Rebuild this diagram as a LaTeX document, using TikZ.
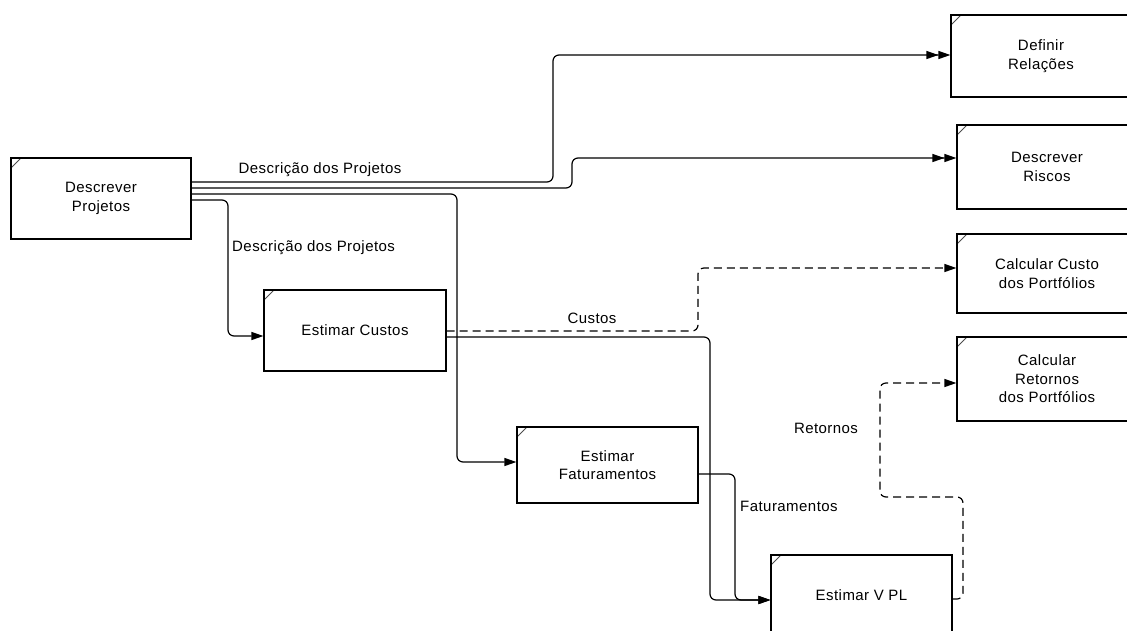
\documentclass[tikz,border=0pt]{standalone}
\usepackage{fontspec}
\setmainfont{Liberation Sans}[LetterSpace=3]
\usetikzlibrary{arrows.meta}

\tikzset{
  procbox/.style={draw, line width=1.2pt, rectangle, minimum width=180pt, minimum height=81pt,
    inner sep=0pt, align=center, font=\fontsize{15}{18.5}\selectfont,
    path picture={\draw[line width=0.8pt, black!70]
      ([yshift=-10pt]path picture bounding box.north west) --
      ([xshift=10pt]path picture bounding box.north west);}},
  flow/.style={line width=1.2pt, rounded corners=6pt},
  single/.style={-{Triangle[length=12pt,width=8pt]}},
  double/.style={-{Triangle[length=12pt,width=8pt,sep=0pt]Triangle[length=12pt,width=8pt]}},
  dashedflow/.style={flow, dash pattern=on 8pt off 5pt},
  lbl/.style={font=\fontsize{15}{17}\selectfont, inner sep=0pt}
}

\begin{document}
\begin{tikzpicture}[x=1pt, y=-1pt]
  \clip (0,0) rectangle (1127,630);

  % activity boxes
  \node[procbox] (DP)  at (101,198.5)  {Descrever\\Projetos};
  \node[procbox, minimum height=82pt] (DR)  at (1041,56)   {Definir\\Relações};
  \node[procbox, minimum height=84pt] (RI)  at (1047,167)  {Descrever\\Riscos};
  \node[procbox, minimum height=79pt] (CC)  at (1047,273.5) {Calcular Custo\\dos Portfólios};
  \node[procbox, minimum height=84pt] (CR)  at (1047,379)  {Calcular\\Retornos\\dos Portfólios};
  \node[procbox, minimum width=182pt] (EC)  at (355,330.5) {Estimar Custos};
  \node[procbox, minimum width=181pt, minimum height=76pt] (EF) at (607.5,465) {Estimar\\Faturamentos};
  \node[procbox, minimum width=181pt, minimum height=80pt] (VPL) at (861.5,595) {Estimar V PL};

  % project descriptions
  \draw[flow, double] ([yshift=16.5pt]DP.east) -| (553,55) -- ([yshift=1pt]DR.west);
  \draw[flow, double] ([yshift=10.5pt]DP.east) -| (572,158) -- ([yshift=9pt]RI.west);
  \draw[flow, single] ([yshift=4.5pt]DP.east) -| (457,462) -- ([yshift=3pt]EF.west);
  \draw[flow, single] ([yshift=-1.5pt]DP.east) -| (228,336) -- ([yshift=-5.5pt]EC.west);

  \node[lbl] (l1) at (320,170) {Descrição dos Projetos};
  \node[lbl, anchor=west] (l2) at (232,248) {Descrição dos Projetos};

  % costs
  \draw[dashedflow, single] ([yshift=-0.5pt]EC.east) -| (698,268) -- ([yshift=5.5pt]CC.west);
  \node[lbl] (l3) at (592,318) {Custos};
  \draw[flow, single] ([yshift=-6.5pt]EC.east) -| (710,600) -- ([yshift=-5pt]VPL.west);

  % revenues
  \draw[flow, single] ([yshift=-9pt]EF.east) -| (735,600) -- ([yshift=-5pt]VPL.west);
  \node[lbl, anchor=west] (l4) at (740,506) {Faturamentos};

  % returns
  \draw[dashedflow, single] ([yshift=-4pt]VPL.east) -| (963,497) -| (880,383) -- ([yshift=-4pt]CR.west);
  \node[lbl] (l5) at (826,428) {Retornos};
\end{tikzpicture}
\end{document}
